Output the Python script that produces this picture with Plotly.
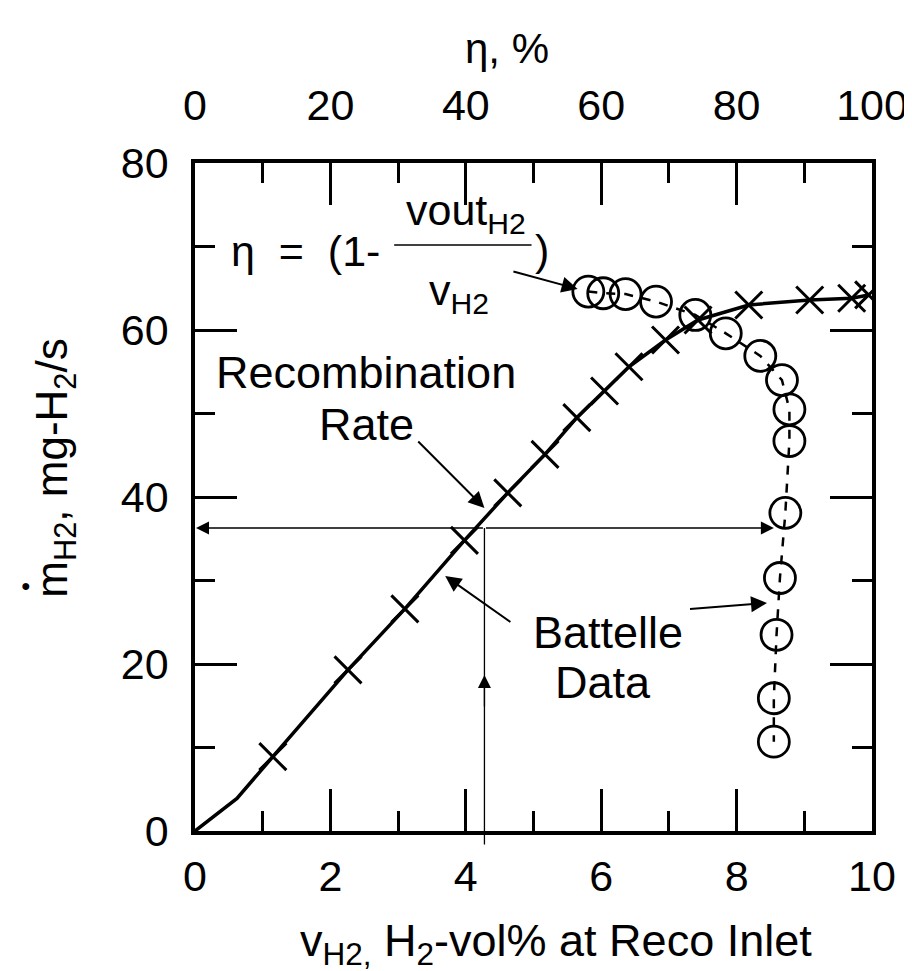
import plotly.graph_objects as go

# ---------------- data ----------------
# Recombination rate curve (solid line), x = H2 vol% at inlet, y = mg-H2/s
curve_x = [0, 0.62, 1.15, 2.26, 3.10, 3.98, 4.62, 5.17, 5.64, 6.05, 6.41, 6.95, 7.43, 8.18, 9.08, 9.70, 9.95]
curve_y = [0, 3.9, 8.9, 19.3, 26.6, 34.8, 40.5, 45.1, 49.5, 52.7, 55.6, 58.8, 61.2, 63.0, 63.6, 63.8, 64.2]

# Battelle data (x markers)
batt_x = [1.15, 2.26, 3.10, 3.98, 4.62, 5.17, 5.64, 6.05, 6.41, 6.95, 7.43, 8.18, 9.08, 9.70, 9.95]
batt_y = [8.9, 19.3, 26.6, 34.8, 40.5, 45.1, 49.5, 52.7, 55.6, 58.8, 61.2, 63.0, 63.6, 63.8, 64.2]

# Efficiency eta (%) on top axis vs recombination rate (circles)
eta_pct = [58.1, 60.3, 63.6, 68.1, 73.9, 78.4, 83.5, 86.7, 87.8, 87.8, 87.2, 86.4, 85.9, 85.5, 85.5]
eta_m = [64.6, 64.4, 64.3, 63.4, 61.8, 59.6, 56.9, 54.0, 50.5, 46.7, 38.1, 30.3, 23.5, 15.9, 10.7]

x_ticks = [0, 2, 4, 6, 8, 10]
x_minor = [1, 3, 5, 7, 9]
eta_ticks = [0, 20, 40, 60, 80, 100]
eta_minor = [10, 30, 50, 70, 90]
y_ticks = [0, 20, 40, 60, 80]
y_minor = [10, 30, 50, 70]

# ---------------- layout helpers ----------------
W, H = 912, 971
L, R, T, B = 187, 877, 155, 823
XMAX, YMAX = 10.0, 80.0


def dx(px):
    return (px - L) / (R - L) * XMAX


def dy(py):
    return (B - py) / (B - T) * YMAX


def paper_x(px):
    return (px - L) / (R - L)


def paper_y(py):
    return (B - py) / (B - T)


FONT = "Liberation Sans, Arial, Helvetica, sans-serif"
BLACK = "black"

fig = go.Figure()

fig.add_trace(go.Scatter(
    x=eta_pct, y=eta_m, xaxis="x2", yaxis="y",
    mode="lines+markers",
    line=dict(color=BLACK, width=2.5, dash="dash"),
    marker=dict(symbol="circle-open", size=31, color=BLACK, line=dict(width=2.8, color=BLACK)),
    showlegend=False, hoverinfo="skip",
))

fig.add_trace(go.Scatter(
    x=curve_x, y=curve_y, mode="lines",
    line=dict(color=BLACK, width=3.5),
    showlegend=False, hoverinfo="skip",
))

fig.add_trace(go.Scatter(
    x=batt_x, y=batt_y, mode="markers",
    marker=dict(symbol="x-thin", size=27, color=BLACK, line=dict(width=3, color=BLACK)),
    showlegend=False, hoverinfo="skip",
))

axis_common = dict(
    showgrid=False, zeroline=False, showline=True, linecolor=BLACK, linewidth=3.5,
    ticks="inside", ticklen=42, tickwidth=3, tickcolor=BLACK,
    tickfont=dict(family=FONT, size=43, color=BLACK),
)

fig.update_layout(
    width=W, height=H,
    margin=dict(l=L, r=W - R, t=T, b=H - B, pad=0),
    paper_bgcolor="white", plot_bgcolor="white",
    font=dict(family=FONT, color=BLACK),
    xaxis=dict(range=[0, XMAX], tickvals=x_ticks, ticktext=[str(v) for v in x_ticks],
               minor=dict(tickvals=x_minor, ticks="inside", ticklen=20, tickwidth=3, tickcolor=BLACK),
               ticklabelstandoff=5, ticklabeloverflow="allow", **axis_common),
    xaxis2=dict(range=[0, 100], overlaying="x", side="top", anchor="y",
                tickvals=eta_ticks, ticktext=[str(v) for v in eta_ticks],
                minor=dict(tickvals=eta_minor, ticks="inside", ticklen=20, tickwidth=3, tickcolor=BLACK),
                ticklabelstandoff=22, ticklabeloverflow="allow", **axis_common),
    yaxis=dict(range=[0, YMAX], tickvals=y_ticks, ticktext=[str(v) for v in y_ticks],
               minor=dict(tickvals=y_minor, ticks="inside", ticklen=20, tickwidth=3, tickcolor=BLACK),
               mirror="ticks", ticklabelstandoff=14, **axis_common),
)

ann = []
TXT = dict(family=FONT, size=45, color=BLACK)
C = dict(xanchor="center", yanchor="middle", showarrow=False)

# axis titles
ann.append(dict(text="η, %", x=paper_x(505), y=paper_y(40), xref="paper", yref="paper",
                font=dict(family=FONT, size=42, color=BLACK), **C))
ann.append(dict(text="v<sub>H2,</sub> H<sub>2</sub>-vol% at Reco Inlet", x=paper_x(555), y=paper_y(935),
                xref="paper", yref="paper", font=dict(family=FONT, size=45, color=BLACK), **C))
ann.append(dict(text="m<sub>H2</sub>, mg-H<sub>2</sub>/s", x=paper_x(44), y=paper_y(460), xref="paper",
                yref="paper", textangle=-90, font=dict(family=FONT, size=44, color=BLACK), **C))
ann.append(dict(text="●", x=paper_x(15), y=paper_y(577), xref="paper", yref="paper",
                font=dict(family=FONT, size=16, color=BLACK), **C))

# formula
ann.append(dict(text="η  =  (1-", x=dx(222), y=dy(243), xanchor="left", yanchor="middle",
                showarrow=False, font=dict(family=FONT, size=43, color=BLACK)))
ann.append(dict(text="vout<sub>H2</sub>", x=dx(463), y=dy(205), font=dict(family=FONT, size=43, color=BLACK), **C))
ann.append(dict(text="v<sub>H2</sub>", x=dx(456), y=dy(285), font=dict(family=FONT, size=43, color=BLACK), **C))
ann.append(dict(text=")", x=dx(541), y=dy(242), font=dict(family=FONT, size=43, color=BLACK), **C))

# labels
ann.append(dict(text="Recombination", x=dx(361), y=dy(364), font=TXT, **C))
ann.append(dict(text="Rate", x=dx(362), y=dy(416), font=TXT, **C))
ann.append(dict(text="Battelle", x=dx(608), y=dy(624), font=TXT, **C))
ann.append(dict(text="Data", x=dx(603), y=dy(674), font=TXT, **C))

ARW = dict(showarrow=True, arrowcolor=BLACK, xref="x", yref="y", axref="x", ayref="y", text="")

# pointer arrows
for (tx, ty, hx, hy) in [
    (510, 263, 577, 281),   # formula -> circles
    (413, 432, 482, 500),   # Rate -> curve
    (510, 615, 442, 568),   # Battelle -> x markers
    (690, 601, 770, 595),   # Battelle -> circles
]:
    ann.append(dict(x=dx(hx), y=dy(hy), ax=dx(tx), ay=dy(ty), arrowhead=2, arrowsize=1.6,
                    arrowwidth=2, **ARW))

# read-off lines
ann.append(dict(x=dx(L + 1), y=dy(520), ax=dx(482), ay=dy(520), arrowhead=2, arrowsize=2,
                arrowwidth=1.3, **ARW))
ann.append(dict(x=dx(777), y=dy(520), ax=dx(482), ay=dy(520), arrowhead=2, arrowsize=2,
                arrowwidth=1.3, **ARW))
ann.append(dict(x=dx(482), y=dy(520), ax=dx(482), ay=dy(838), arrowhead=0,
                arrowwidth=1.3, **ARW))
ann.append(dict(x=dx(482), y=dy(667), ax=dx(482), ay=dy(700), arrowhead=2, arrowsize=2,
                arrowwidth=1.3, **ARW))

fig.update_layout(annotations=ann)

# fraction bar
fig.add_shape(type="line", x0=dx(390), x1=dx(530), y0=dy(237), y1=dy(237),
              xref="x", yref="y", line=dict(color=BLACK, width=1.5))

fig.write_html("out.html")
